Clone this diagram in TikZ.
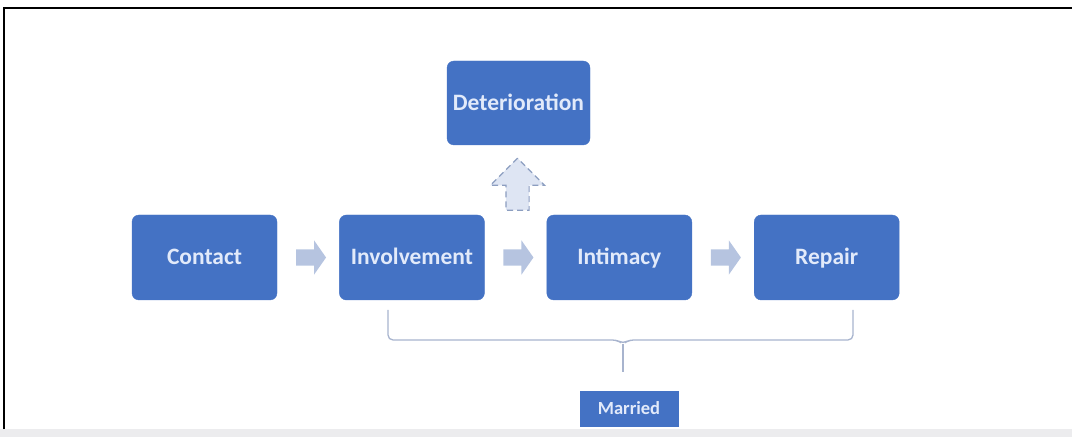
\documentclass[tikz,border=0pt]{standalone}
\usepackage{fontspec}
\setmainfont{Carlito}
\usetikzlibrary{positioning, shapes.arrows, calc}
\definecolor{stagebg}{RGB}{68,114,196}
\definecolor{stagetxt}{RGB}{226,234,250}
\definecolor{arrbg}{RGB}{182,196,224}
\definecolor{upbg}{RGB}{222,229,243}
\definecolor{upclr}{RGB}{140,158,192}
\definecolor{brclr}{RGB}{168,180,206}
\definecolor{stripbg}{RGB}{236,236,238}

\begin{document}
\begin{tikzpicture}[
    x=1pt, y=1pt,
    node distance=62pt,
    % --- node styles ---
    stage/.style   ={draw=stagebg, fill=stagebg, rounded corners=7pt, text=stagetxt,
                     minimum width=145pt, minimum height=85pt, inner sep=1pt,
                     text height=15pt, text depth=0pt,
                     font=\bfseries\fontsize{23.5}{25}\selectfont},
    tag/.style     ={draw=stagebg, fill=stagebg, text=stagetxt,
                     minimum width=98pt, minimum height=35pt, inner sep=1pt,
                     text height=12pt, text depth=0pt,
                     font=\bfseries\fontsize{18.5}{20}\selectfont},
    flow/.style    ={single arrow, fill=arrbg, draw=none, minimum height=30pt,
                     single arrow head extend=9pt, single arrow tip angle=110,
                     inner sep=0pt},
    uparr/.style   ={single arrow, shape border rotate=90, fill=upbg, draw=upclr,
                     dash pattern=on 6pt off 4pt, line width=1.2pt, minimum height=52pt,
                     single arrow head extend=15.5pt, inner sep=0pt},
    % --- wire styles ---
    bracket/.style ={draw=brclr, line width=1.3pt, rounded corners=5pt},
]
\useasboundingbox (0,0) rectangle (1072,437);

% =============== frame ===============
\fill[stripbg] (0,0) rectangle (1072,8);
\draw[line width=1.6pt] (4,8) -- (4,429) -- (1072,429);

% =============== stages ===============
\node[stage] (contact) at (204.5,179.5) {Contact};
\node[stage, right=of contact] (involve) {Involvement};
\node[stage, right=of involve] (intimacy) {Intimacy};
\node[stage, right=of intimacy] (repair) {Repair};
\node[stage, minimum width=143pt, minimum height=84pt] (deter) at (518.5,334) {Deterioration};
\node[tag] (married) at (629,28.5) {Married};

% =============== arrows ===============
\node[flow] (a1) at ($(contact.east)!0.5!(involve.west)$) {\rule{0pt}{16pt}};
\node[flow] (a2) at ($(involve.east)!0.5!(intimacy.west)$) {\rule{0pt}{16pt}};
\node[flow] (a3) at ($(intimacy.east)!0.5!(repair.west)$) {\rule{0pt}{16pt}};
\node[uparr] (up) at (517.5,247) {\rule{22pt}{0pt}\rule{0pt}{22pt}};

% =============== bracket ===============
\coordinate (brl) at (388,127);
\coordinate (brr) at (853,127);
\coordinate (brm) at (623,97);
\coordinate (bre) at (623,65);
\draw[bracket] (brl) |- ($(brm)+(-6,0)$) -- ($(brm)+(0,-4)$) -- ($(brm)+(6,0)$) -| (brr);
\draw[bracket] ($(brm)+(0,-4)$) -- (bre);

\end{tikzpicture}
\end{document}
